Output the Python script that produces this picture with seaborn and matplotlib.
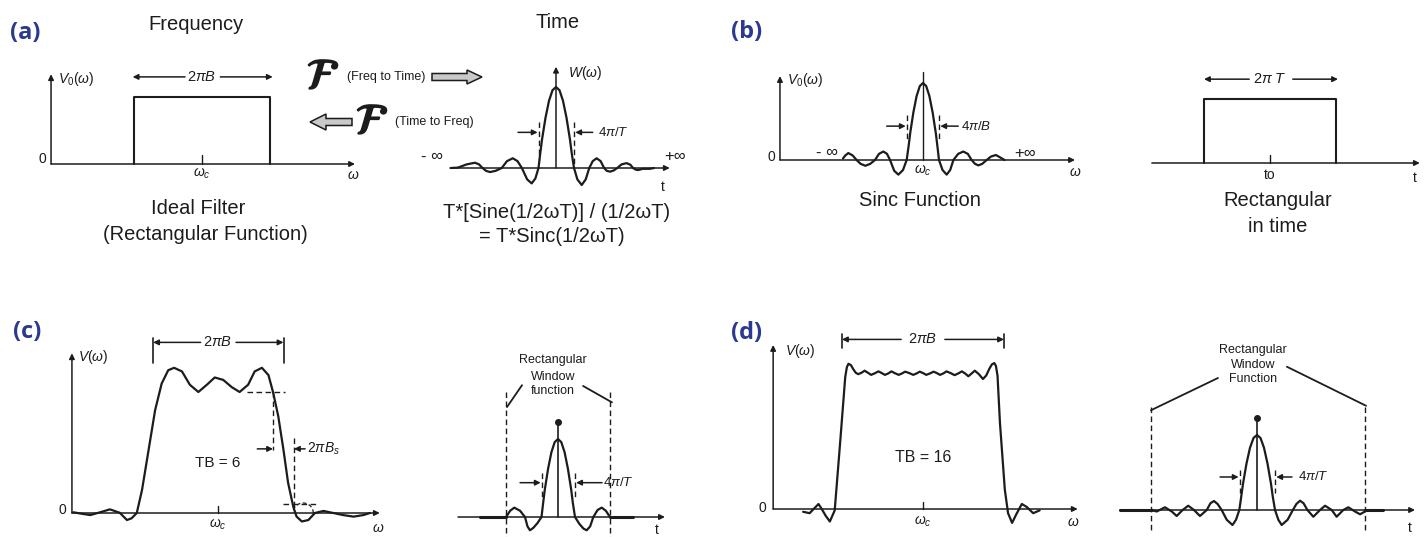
import numpy as np
import matplotlib
matplotlib.use("Agg")
import matplotlib.pyplot as plt
import matplotlib.patheffects as pe
from matplotlib.patches import FancyArrow, Arc
import seaborn as sns

W, H = 1424, 537
INK = "#1c1c1c"
NAVY = "#2b3990"

# curves: x in diagram units, amplitude normalised to 1
a_rect_w = [-1, -1, 1, 1]
a_rect_v = [0, 1, 1, 0]

a_time = [(-6.0, 0.0), (-5.6, 0.005), (-5.1, 0.045), (-4.63, 0.065), (-4.4, 0.045),
          (-4.2, 0.0), (-4.0, -0.035), (-3.77, -0.05), (-3.45, -0.035), (-3.1, 0.0),
          (-2.8, 0.085), (-2.47, 0.12), (-2.2, 0.085), (-1.95, 0.0), (-1.65, -0.14),
          (-1.39, -0.19), (-1.18, -0.13), (-1.0, 0.0), (-0.9, 0.18), (-0.8, 0.35),
          (-0.6, 0.62), (-0.4, 0.83), (-0.2, 0.96), (0.0, 1.0), (0.2, 0.96), (0.4, 0.83),
          (0.6, 0.62), (0.8, 0.35), (0.9, 0.18), (1.03, 0.0), (1.22, -0.14), (1.47, -0.21),
          (1.7, -0.14), (1.9, 0.0), (2.1, 0.085), (2.32, 0.12), (2.55, 0.085), (2.75, 0.0),
          (2.9, -0.035), (3.09, -0.045), (3.3, -0.03), (3.5, 0.0), (3.75, 0.045),
          (4.04, 0.06), (4.25, 0.04), (4.4, 0.0), (4.55, -0.02), (4.7, -0.025),
          (4.95, -0.01), (5.37, -0.01), (5.6, 0.0)]

b_freq = [(-5.0, 0.02), (-4.85, 0.06), (-4.67, 0.09), (-4.4, 0.06), (-4.15, 0.0),
          (-3.9, -0.05), (-3.6, -0.075), (-3.3, -0.05), (-3.0, 0.0), (-2.75, 0.08),
          (-2.48, 0.11), (-2.25, 0.08), (-2.06, 0.0), (-1.8, -0.14), (-1.54, -0.19),
          (-1.25, -0.13), (-1.02, 0.0), (-0.9, 0.18), (-0.8, 0.35), (-0.6, 0.62),
          (-0.4, 0.83), (-0.2, 0.96), (0.0, 1.0), (0.2, 0.96), (0.4, 0.83), (0.6, 0.62),
          (0.8, 0.35), (0.9, 0.18), (1.0, 0.0), (1.22, -0.13), (1.48, -0.19), (1.7, -0.13),
          (1.9, 0.0), (2.2, 0.08), (2.52, 0.11), (2.8, 0.08), (3.04, 0.0), (3.25, -0.05),
          (3.46, -0.07), (3.7, -0.05), (3.98, 0.0), (4.25, 0.045), (4.56, 0.065),
          (4.85, 0.03), (5.1, 0.0)]

b_rect_t = [-1, -1, 1, 1]
b_rect_v = [0, 1, 1, 0]

c_freq = [(-2.21, 0.006), (-2.06, -0.008), (-1.95, -0.017), (-1.80, 0.006), (-1.65, 0.03),
          (-1.50, 0.002), (-1.39, -0.058), (-1.32, -0.044), (-1.24, 0.0), (-1.16, 0.19),
          (-1.06, 0.52), (-0.96, 0.85), (-0.86, 1.07), (-0.76, 1.18), (-0.67, 1.20),
          (-0.55, 1.17), (-0.43, 1.06), (-0.30, 1.0), (-0.17, 1.06), (-0.05, 1.12),
          (0.08, 1.10), (0.21, 1.04), (0.33, 1.0), (0.46, 1.06), (0.56, 1.17), (0.67, 1.20),
          (0.77, 1.14), (0.84, 1.0), (0.92, 0.80), (1.0, 0.52), (1.07, 0.25), (1.15, 0.05),
          (1.20, -0.03), (1.28, -0.07), (1.38, -0.058), (1.48, 0.0), (1.61, 0.017),
          (1.76, 0.0), (1.91, -0.017), (2.07, -0.03), (2.22, -0.017), (2.32, 0.0)]

c_time = [(-3.15, 0.0), (-2.9, 0.08), (-2.65, 0.12), (-2.3, 0.08), (-2.0, 0.0),
          (-1.85, -0.12), (-1.7, -0.17), (-1.5, -0.14), (-1.25, -0.08), (-1.0, 0.0),
          (-0.9, 0.18), (-0.8, 0.35), (-0.6, 0.62), (-0.4, 0.83), (-0.2, 0.96), (0.0, 1.0),
          (0.2, 0.96), (0.4, 0.83), (0.6, 0.62), (0.8, 0.35), (0.9, 0.18), (1.03, 0.0),
          (1.3, -0.09), (1.55, -0.15), (1.74, -0.17), (1.95, -0.12), (2.14, 0.0),
          (2.4, 0.09), (2.65, 0.12), (2.9, 0.08), (3.15, 0.0)]

d_freq = [(-1.48, -0.02), (-1.40, -0.03), (-1.35, 0.0), (-1.29, 0.036), (-1.25, 0.0),
          (-1.20, -0.05), (-1.15, -0.09), (-1.09, -0.01), (-1.02, 0.50), (-0.96, 0.95),
          (-0.94, 1.02), (-0.92, 1.045), (-0.89, 1.035), (-0.86, 1.005), (-0.83, 0.98),
          (-0.80, 0.97), (-0.76, 0.98), (-0.72, 0.995), (-0.68, 0.98), (-0.64, 0.965),
          (-0.60, 0.975), (-0.55, 0.99), (-0.51, 0.978), (-0.47, 0.965), (-0.43, 0.975),
          (-0.39, 0.99), (-0.35, 0.978), (-0.30, 0.965), (-0.26, 0.975), (-0.22, 0.988),
          (-0.17, 0.978), (-0.12, 0.965), (-0.08, 0.975), (-0.04, 0.988), (0.0, 0.978),
          (0.04, 0.965), (0.085, 0.975), (0.13, 0.988), (0.17, 0.978), (0.21, 0.965),
          (0.25, 0.975), (0.29, 0.99), (0.34, 0.978), (0.39, 0.963), (0.435, 0.975),
          (0.48, 0.99), (0.52, 0.975), (0.56, 0.955), (0.60, 0.975), (0.64, 0.995),
          (0.69, 0.97), (0.74, 0.935), (0.78, 0.96), (0.82, 1.01), (0.85, 1.04),
          (0.88, 1.05), (0.90, 1.03), (0.92, 0.96), (0.95, 0.62), (1.01, 0.14),
          (1.05, -0.03), (1.10, -0.10), (1.15, -0.04), (1.22, 0.036), (1.28, 0.015),
          (1.36, -0.03), (1.44, -0.01)]

d_time = [(-6.02, 0.0), (-5.73, -0.02), (-5.26, 0.036), (-4.87, -0.02), (-4.59, -0.08),
          (-4.25, 0.0), (-3.93, 0.057), (-3.6, 0.0), (-3.26, -0.08), (-2.87, 0.0),
          (-2.66, 0.09), (-2.46, 0.12), (-2.25, 0.08), (-2.02, 0.0), (-1.73, -0.13),
          (-1.4, -0.2), (-1.2, -0.13), (-1.01, 0.0), (-0.9, 0.18), (-0.8, 0.35),
          (-0.6, 0.62), (-0.4, 0.83), (-0.2, 0.96), (0.0, 1.0), (0.2, 0.96), (0.4, 0.83),
          (0.6, 0.62), (0.8, 0.35), (0.9, 0.18), (1.03, 0.0), (1.22, -0.13), (1.41, -0.2),
          (1.75, -0.13), (2.05, 0.0), (2.25, 0.08), (2.46, 0.124), (2.66, 0.09), (2.88, 0.0),
          (3.22, -0.09), (3.6, 0.0), (3.89, 0.057), (4.27, 0.0), (4.55, -0.09), (4.93, 0.0),
          (5.22, 0.036), (5.6, -0.02), (5.89, -0.057), (6.17, -0.02)]

sns.set_theme(style="white")
plt.rcParams["font.family"] = ["Liberation Sans", "DejaVu Sans"]
plt.rcParams["mathtext.fontset"] = "custom"
plt.rcParams["mathtext.rm"] = "Liberation Sans"
plt.rcParams["mathtext.it"] = "Liberation Sans:italic"
plt.rcParams["mathtext.bf"] = "Liberation Sans:bold"

fig = plt.figure(figsize=(W / 100, H / 100), dpi=100)
canvas = fig.add_axes([0, 0, 1, 1], label="canvas")
canvas.set_xlim(0, W)
canvas.set_ylim(H, 0)
canvas.axis("off")

n_frames = [0]


def frame(ox, oy, sx, sy):
    # full-figure axes whose origin sits at pixel (ox, oy)
    n_frames[0] += 1
    ax = fig.add_axes([0, 0, 1, 1], label=f"f{n_frames[0]}")
    ax.set_xlim(-ox / sx, (W - ox) / sx)
    ax.set_ylim(-(H - oy) / sy, oy / sy)
    ax.axis("off")
    return ax


def draw(ax, pts, lw=1.6):
    t, v = np.array(pts).T
    sns.lineplot(x=t, y=v, ax=ax, sort=False, estimator=None, color=INK, linewidth=lw)


def arrow(ax, x0, y0, x1, y1, lw=1.1, ms=8):
    ax.annotate("", xy=(x1, y1), xytext=(x0, y0),
                arrowprops=dict(arrowstyle="-|>", color=INK, lw=lw, mutation_scale=ms,
                                shrinkA=0, shrinkB=0))


def dashed(ax, xs, ys, lw=1.0):
    ax.plot(xs, ys, color=INK, lw=lw, ls=(0, (4, 2.5)))


def span(ax, x0, x1, y, gap):
    mid = (x0 + x1) / 2
    arrow(ax, mid - gap, y, x0, y)
    arrow(ax, mid + gap, y, x1, y)


def label(ax, x, y, s, size=10, ha="center", **kw):
    ax.text(x, y, s, ha=ha, va="center", fontsize=size, color=INK, **kw)


# ---------------- (a) frequency ----------------
ax = frame(202, 164, 68, 67)
sns.lineplot(x=a_rect_w, y=a_rect_v, ax=ax, sort=False, estimator=None, color=INK, linewidth=1.5)
arrow(ax, -2.22, 0, -2.22, 1.34)
arrow(ax, -2.22, 0, 2.25, 0)
ax.plot([0, 0], [0, 0.13], color=INK, lw=1)
span(ax, -1.02, 1.04, 1.3, 0.26)
label(ax, 0, 1.3, r"$2\pi B$", 10.5)
label(ax, -2.12, 1.27, r"$V_0(\omega)$", 10, ha="left")
label(ax, -2.35, 0.07, "0", 10)
label(ax, 0, -0.14, r"$\omega_c$", 10)
label(ax, 2.22, -0.16, r"$\omega$", 10)

# ---------------- (a) time ----------------
ax = frame(556, 168, 17.5, 81)
draw(ax, a_time)
arrow(ax, -6.06, 0, 6.5, 0)
arrow(ax, 0, 0, 0, 1.25)
dashed(ax, [-1.0, -1.0], [0.57, 0.1])
dashed(ax, [1.03, 1.03], [0.57, 0.05])
arrow(ax, -2.17, 0.44, -1.05, 0.44)
arrow(ax, 2.1, 0.44, 1.1, 0.44)
label(ax, 2.4, 0.44, r"$4\pi/T$", 9.5, ha="left")
label(ax, 0.7, 1.17, r"$W(\omega)$", 10, ha="left")
label(ax, -7.1, 0.14, "- ∞", 12)
label(ax, 6.8, 0.14, "+∞", 12)
label(ax, 6.1, -0.23, "t", 10)

# ---------------- (b) frequency ----------------
ax = frame(923, 160, 16, 77)
draw(ax, b_freq)
arrow(ax, -8.94, 0, -8.94, 1.09)
arrow(ax, -8.94, 0, 9.5, 0)
ax.plot([0, 0], [0, 1.14], color=INK, lw=1)
dashed(ax, [-1.0, -1.0], [0.58, 0.26])
dashed(ax, [1.0, 1.0], [0.58, 0.26])
arrow(ax, -2.27, 0.44, -1.08, 0.44)
arrow(ax, 2.2, 0.44, 1.08, 0.44)
label(ax, 2.4, 0.44, r"$4\pi/B$", 9.5, ha="left")
label(ax, -6.0, 0.1, "- ∞", 12)
label(ax, 6.4, 0.08, "+∞", 12)
label(ax, -8.5, 1.04, r"$V_0(\omega)$", 10, ha="left")
label(ax, -9.5, 0.04, "0", 10)
label(ax, 0, -0.14, r"$\omega_c$", 10)
label(ax, 9.5, -0.16, r"$\omega$", 10)

# ---------------- (b) time ----------------
ax = frame(1270, 163, 66, 64)
sns.lineplot(x=b_rect_t, y=b_rect_v, ax=ax, sort=False, estimator=None, color=INK, linewidth=1.5)
arrow(ax, -1.79, 0, 2.27, 0)
ax.plot([0, 0], [0, 0.125], color=INK, lw=1)
span(ax, -1.0, 1.03, 1.31, 0.33)
label(ax, 0, 1.31, r"$2\pi\ T$", 10.5)
label(ax, 0, -0.19, "to", 10)
label(ax, 2.2, -0.23, "t", 10)

# ---------------- (c) frequency ----------------
ax = frame(218, 513, 65.5, 121)
draw(ax, c_freq)
arrow(ax, -2.23, 0, -2.23, 1.32)
arrow(ax, -2.23, 0, 2.47, 0)
ax.plot([0, 0], [0, 0.06], color=INK, lw=1)
ax.plot([-0.99, -0.99], [1.24, 1.45], color=INK, lw=1.2)
ax.plot([1.0, 1.0], [1.24, 1.45], color=INK, lw=1.2)
span(ax, -0.99, 1.0, 1.41, 0.27)
label(ax, 0, 1.41, r"$2\pi B$", 10.5)
dashed(ax, [0.44, 1.02], [1.0, 1.0])
dashed(ax, [0.84, 0.84], [1.0, 0.52])
arrow(ax, 0.6, 0.53, 0.84, 0.53)
dashed(ax, [1.16, 1.16], [0.62, 0.05])
arrow(ax, 1.33, 0.53, 1.16, 0.53)
label(ax, 1.36, 0.53, r"$2\pi B_s$", 10, ha="left")
dashed(ax, [0.99, 1.51], [0.075, 0.075])
ax.add_patch(Arc((1.3, 0.0), 0.31, 0.165, theta1=0, theta2=180, color=INK, lw=0.9, ls=(0, (3, 2))))
label(ax, -2.14, 1.29, r"$V(\omega)$", 10, ha="left")
label(ax, -2.37, 0.025, "0", 10)
label(ax, 0, -0.1, r"$\omega_c$", 10)
label(ax, 2.44, -0.12, r"$\omega$", 10)
label(ax, 0, 0.41, "TB = 6", 11)

# ---------------- (c) time ----------------
ax = frame(558, 517, 16.5, 78)
draw(ax, c_time)
arrow(ax, -6.06, 0, 6.48, 0)
ax.plot([-4.73, -3.15], [0, 0], color=INK, lw=2.2)
ax.plot([3.15, 4.57], [0, 0], color=INK, lw=2.2)
ax.plot([0, 0], [0, 1.22], color=INK, lw=1.2)
ax.plot([0], [1.22], "o", color=INK, ms=4)
dashed(ax, [-3.15, -3.15], [1.6, -0.26])
dashed(ax, [3.15, 3.15], [1.6, -0.26])
dashed(ax, [-0.97, -0.97], [0.56, 0.26])
dashed(ax, [1.03, 1.03], [0.56, 0.26])
arrow(ax, -2.3, 0.44, -1.05, 0.44)
arrow(ax, 2.67, 0.44, 1.1, 0.44)
label(ax, 2.75, 0.44, r"$4\pi/T$", 9.5, ha="left")
ax.plot([-3.09, -2.18], [1.41, 1.69], color=INK, lw=1.3)
ax.plot([1.52, 3.27], [1.68, 1.47], color=INK, lw=1.3)
label(ax, -0.3, 2.01, "Rectangular", 9)
label(ax, -0.3, 1.80, "Window", 9)
label(ax, -0.3, 1.62, "function", 9)
label(ax, 6.0, -0.17, "t", 10)

# ---------------- (d) frequency ----------------
ax = frame(923, 509, 81, 139)
draw(ax, d_freq)
arrow(ax, -1.85, 0, -1.85, 1.18)
arrow(ax, -1.85, 0, 1.91, 0)
ax.plot([0, 0], [0, 0.05], color=INK, lw=1)
ax.plot([-1.0, -1.0], [1.16, 1.26], color=INK, lw=1.2)
ax.plot([1.0, 1.0], [1.16, 1.26], color=INK, lw=1.2)
span(ax, -1.0, 1.0, 1.22, 0.27)
label(ax, 0, 1.22, r"$2\pi B$", 10.5)
label(ax, -1.70, 1.14, r"$V(\omega)$", 10, ha="left")
label(ax, -1.98, 0.01, "0", 10)
label(ax, 0, -0.09, r"$\omega_c$", 10)
label(ax, 1.85, -0.09, r"$\omega$", 10)
label(ax, 0, 0.37, "TB = 16", 11.5)

# ---------------- (d) time ----------------
ax = frame(1257, 510, 17.5, 75)
draw(ax, d_time)
arrow(ax, -7.83, 0, 9.03, 0)
ax.plot([-7.83, -6.02], [0, 0], color=INK, lw=2.2)
ax.plot([6.17, 7.2], [0, 0], color=INK, lw=2.2)
ax.plot([0, 0], [0, 1.23], color=INK, lw=1.2)
ax.plot([0], [1.23], "o", color=INK, ms=4)
dashed(ax, [-6.06, -6.06], [1.37, -0.29])
dashed(ax, [6.17, 6.17], [1.37, -0.29])
dashed(ax, [-0.97, -0.97], [0.53, 0.23])
dashed(ax, [1.03, 1.03], [0.53, 0.23])
arrow(ax, -2.11, 0.44, -1.05, 0.44)
arrow(ax, 2.0, 0.44, 1.1, 0.44)
label(ax, 2.34, 0.44, r"$4\pi/T$", 9.5, ha="left")
ax.plot([-6.06, -2.23], [1.33, 1.76], color=INK, lw=1.3)
ax.plot([1.71, 6.23], [1.91, 1.39], color=INK, lw=1.3)
label(ax, -0.23, 2.13, "Rectangular", 9)
label(ax, -0.23, 1.94, "Window", 9)
label(ax, -0.23, 1.75, "Function", 9)
label(ax, 8.74, -0.24, "t", 10)

# ---------------- titles, captions, transform arrows ----------------
for x, y, s in [(25, 33, "(a)"), (747, 32, "(b)"), (27, 332, "(c)"), (747, 333, "(d)")]:
    canvas.text(x, y, s, ha="center", va="center", fontsize=17, color=NAVY,
                fontweight="bold", family=["Open Sans", "DejaVu Sans"])

captions = [(196, 24, "Frequency"), (558, 23, "Time"),
            (198, 209, "Ideal Filter"), (205, 234, "(Rectangular Function)"),
            (557, 213, "T*[Sine(1/2ωT)] / (1/2ωT)"), (552, 237, "= T*Sinc(1/2ωT)"),
            (920, 200, "Sinc Function"), (1278, 201, "Rectangular"), (1278, 226, "in time")]
for x, y, s in captions:
    canvas.text(x, y, s, ha="center", va="center", fontsize=14.5, color=INK)

for x, y in [(323, 78), (372, 123)]:
    canvas.text(x, y, r"$\mathcal{F}$", ha="center", va="center", fontsize=31, color=INK,
                math_fontfamily="stix",
                path_effects=[pe.withStroke(linewidth=1.4, foreground=INK)])
canvas.text(347, 77, "(Freq to Time)", ha="left", va="center", fontsize=9, color=INK)
canvas.text(395, 122, "(Time to Freq)", ha="left", va="center", fontsize=9, color=INK)
canvas.add_patch(FancyArrow(432, 77, 50, 0, width=7, head_width=14, head_length=15,
                            length_includes_head=True, fc="#c9c9c9", ec=INK, lw=1.1))
canvas.add_patch(FancyArrow(352, 122, -42, 0, width=7, head_width=16, head_length=16,
                            length_includes_head=True, fc="#c9c9c9", ec=INK, lw=1.1))

fig.savefig("out.png", dpi=100, facecolor="white")
